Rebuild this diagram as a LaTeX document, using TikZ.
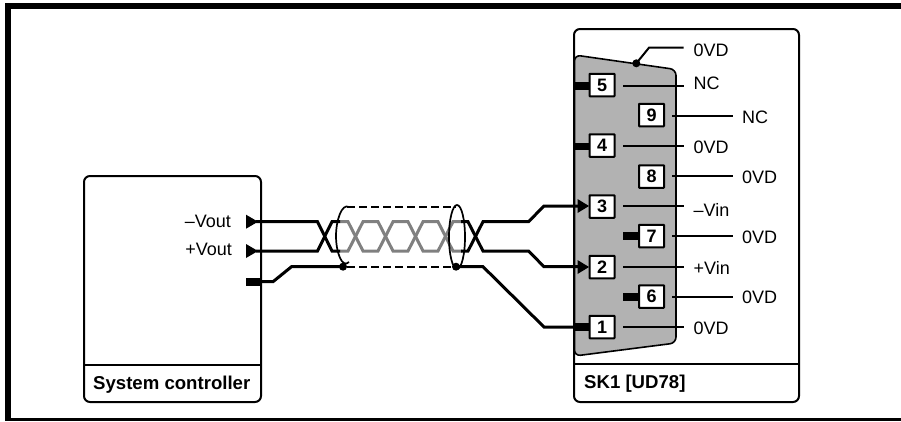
\documentclass[tikz,border=0pt]{standalone}
\usepackage{fontspec}
\setmainfont{Liberation Sans}
\usetikzlibrary{calc}
\definecolor{conn}{gray}{0.7}
\definecolor{twist}{gray}{0.5}
\tikzset{
  x=1pt,y=-1pt,
  boxline/.style={draw=black,line width=2pt,rounded corners=6pt},
  sepline/.style={line width=2pt},
  wire/.style={line width=3pt,line join=miter},
  twistwire/.style={line width=3pt,draw=twist},
  pin/.style={draw=black,fill=white,line width=2pt,minimum width=25pt,minimum height=22.5pt,inner sep=0pt,font=\fontsize{18}{18}\selectfont\bfseries,rounded corners=0.5pt},
  lab/.style={inner sep=0pt,anchor=west,font=\fontsize{18}{18}\selectfont},
  ttl/.style={inner sep=0pt,anchor=west,font=\fontsize{18.6}{18}\selectfont\bfseries},
  pinline/.style={line width=2pt},
  tab/.style={fill=black,draw=none},
  tri/.style={fill=black,draw=none},
  dot/.style={circle,fill=black,draw=none,inner sep=0pt,minimum size=8pt},
}
\begin{document}
\begin{tikzpicture}
\useasboundingbox (0,0) rectangle (901,421);
% frame
\fill (5,3.3) rectangle (901,8.7);
\fill (5,3.3) rectangle (11,421);
\fill (5,417.7) rectangle (901,421);
% left box
\draw[boxline] (84,176) rectangle (261,402);
\draw[sepline] (84,365) -- (261,365);
\node[ttl] (t1) at (93,385) {System controller};
% right box
\draw[boxline] (574,29) rectangle (799,402);
\draw[sepline] (574,364) -- (799,364);
\node[ttl] (t2) at (584,384) {SK1 [UD78]};
% connector shell
\filldraw[fill=conn,draw=black,line width=1.6pt,rounded corners=6pt]
  (574.5,55) -- (676,69.5) -- (676,343) -- (574.5,356) -- cycle;
\draw[line width=2pt] (574,40) -- (574,364);
% pins
\node[pin] (p5) at (602,85) {\raisebox{-1pt}{5}};
\node[pin] (p4) at (602,145.5) {\raisebox{-1pt}{4}};
\node[pin] (p3) at (602,206.5) {\raisebox{-1pt}{3}};
\node[pin] (p2) at (602,267) {\raisebox{-1pt}{2}};
\node[pin] (p1) at (602,327) {\raisebox{-1pt}{1}};
\node[pin] (p9) at (651.5,115) {\raisebox{-1pt}{9}};
\node[pin] (p8) at (651.5,176.5) {\raisebox{-1pt}{8}};
\node[pin] (p7) at (651.5,236) {\raisebox{-1pt}{7}};
\node[pin] (p6) at (651.5,296.5) {\raisebox{-1pt}{6}};
% tabs
\fill[tab] (575,82) rectangle (589,89.5);
\fill[tab] (575,142.5) rectangle (589,150);
\fill[tab] (575,323) rectangle (589,330.5);
\fill[tab] (623,232) rectangle (638,239.5);
\fill[tab] (623,293) rectangle (638,300.5);
% pin lines and labels
\coordinate (q5) at (623,85.7); \coordinate (e5) at (683.5,85.7); \node[lab] (l5) at (693.5,83.3) {NC};
\coordinate (q4) at (623,146);  \coordinate (e4) at (683.5,146);  \node[lab] (l4) at (693.5,147) {0VD};
\coordinate (q3) at (623,206);  \coordinate (e3) at (683.5,206);  \node[lab] (l3) at (693.5,210) {--Vin};
\coordinate (q2) at (623,266.7);\coordinate (e2) at (683.5,266.7);\node[lab] (l2) at (693.5,268) {+Vin};
\coordinate (q1) at (623,327);  \coordinate (e1) at (683.5,327);  \node[lab] (l1) at (693.5,328) {0VD};
\coordinate (q9) at (672,115.7);\coordinate (e9) at (733,115.7);  \node[lab] (l9) at (742,117.7) {NC};
\coordinate (q8) at (672,175.7);\coordinate (e8) at (733,175.7);  \node[lab] (l8) at (742,177) {0VD};
\coordinate (q7) at (672,235.7);\coordinate (e7) at (733,235.7);  \node[lab] (l7) at (742,237.7) {0VD};
\coordinate (q6) at (672,296.7);\coordinate (e6) at (733,296.7);  \node[lab] (l6) at (742,297.7) {0VD};
\foreach \a in {5,4,3,2,1,9,8,7,6}{
  \draw[pinline] (q\a) -- (e\a);
}
% top dot
\node[dot] (d0) at (636.3,63.3) {};
\coordinate (d0b) at (649,47.7);
\coordinate (d0e) at (683.5,47.7);
\draw[pinline] (d0.center) -- (d0b) -- (d0e);
\node[lab] (l0) at (693.5,50) {0VD};
% left labels
\node[lab,anchor=east] (v1) at (231,221.7) {--Vout};
\node[lab,anchor=east] (v2) at (232,249.3) {+Vout};
% shield outline
\draw[dash pattern=on 8pt off 4pt,line width=2pt] (347,206.7) -- (456,206.7);
\draw[dash pattern=on 8pt off 4pt,line width=2pt] (347,266.7) -- (456,266.7);
% twisted pair grey
\draw[twistwire] (340,221.7) -- (348,221.7) -- (363,251) -- (378,251) -- (393,221.7) -- (408,221.7) -- (423,251) -- (438,251) -- (453,221.7) -- (462,221.7);
\draw[twistwire] (340,251) -- (348,251) -- (363,221.7) -- (378,221.7) -- (393,251) -- (408,251) -- (423,221.7) -- (438,221.7) -- (453,251) -- (462,251);
% black wires
\draw[wire] (256,221.7) -- (317.5,221.7) -- (332,251) -- (340,251);
\draw[wire] (256,251) -- (317.5,251) -- (332,221.7) -- (340,221.7);
\draw[wire] (461,221.7) -- (468,221.7) -- (483,251) -- (528.5,251) -- (544,266.7) -- (578,266.7);
\draw[wire] (461,251) -- (468,251) -- (483,221.7) -- (528.5,221.7) -- (544,206) -- (578,206);
\draw[wire] (261,281.7) -- (273,281.7) -- (291.5,266.7) -- (343,266.7);
\draw[wire] (456,266.7) -- (483,266.7) -- (544,327) -- (575,327);
% triangles
\fill[tri] (246,214.7) -- (258,221.7) -- (246,228.7) -- cycle;
\fill[tri] (246,244) -- (258,251) -- (246,258) -- cycle;
\fill[tab] (246,278) rectangle (261,286);
\fill[tri] (577.5,199) -- (589,206) -- (577.5,213) -- cycle;
\fill[tri] (577.5,260) -- (589,267) -- (577.5,274) -- cycle;
% shield ellipses
\node[dot] (s1) at (343,266.7) {};
\node[dot] (s2) at (456,266.7) {};
\draw[line width=1.7pt] (349,207) .. controls (342,203) and (336,220) .. (336,236) .. controls (336,252) and (342,269) .. (349,262);
\draw[line width=1.7pt] (457,237) ellipse [x radius=8,y radius=32];
\end{tikzpicture}
\end{document}
